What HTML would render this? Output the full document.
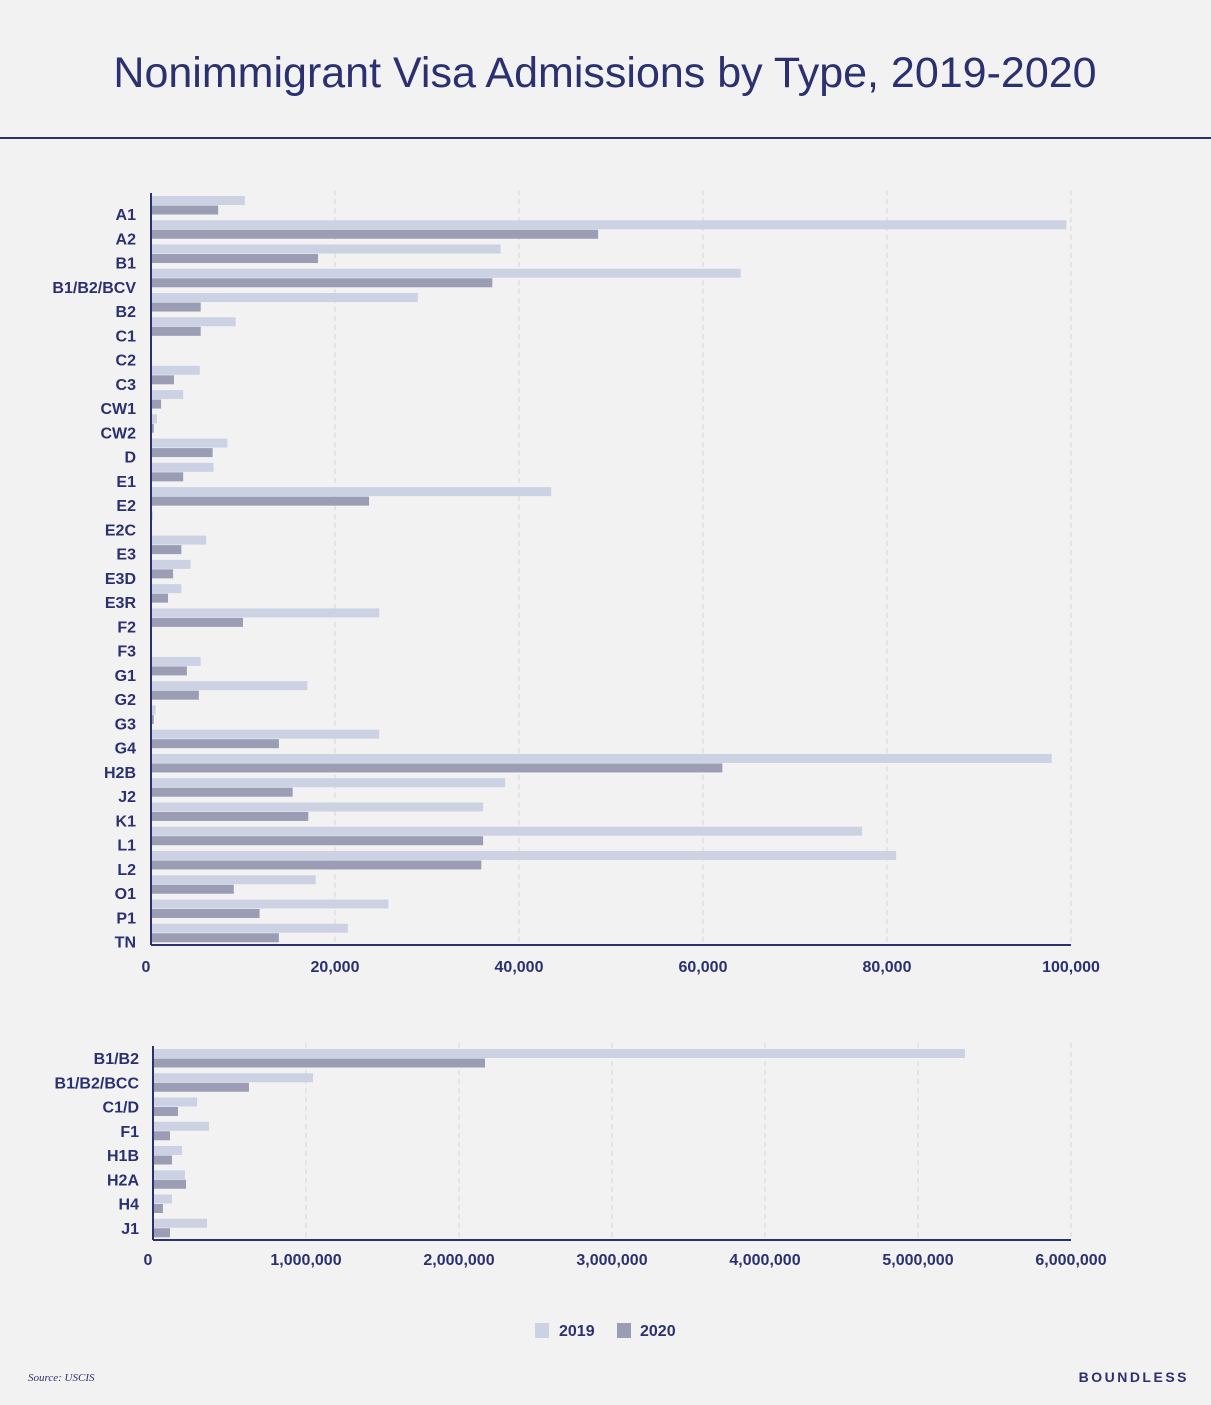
<!DOCTYPE html>
<html><head><meta charset="utf-8">
<style>
html,body{margin:0;padding:0;background:#f2f2f2;}
body{width:1211px;height:1400px;position:relative;overflow:hidden;font-family:"Liberation Sans",sans-serif;}
svg text{font-family:"Liberation Sans",sans-serif;}
</style></head>
<body>
<svg id="chart" width="1211" height="1400" xmlns="http://www.w3.org/2000/svg">
<rect width="1211" height="1400" fill="#f2f2f2"/>
<text x="605" y="87" text-anchor="middle" font-size="43" fill="#2b3070">Nonimmigrant Visa Admissions by Type, 2019-2020</text>
<rect x="0" y="137" width="1211" height="2" fill="#2b3070"/>
<g id="top"></g>
<g id="bot"></g>
<g>
<rect x="535" y="1323" width="14" height="15" fill="#cdd1e4"/>
<text x="559" y="1336" font-size="16" font-weight="bold" fill="#2b3070">2019</text>
<rect x="617" y="1323" width="14" height="15" fill="#9a9db3"/>
<text x="640" y="1336" font-size="16" font-weight="bold" fill="#2b3070">2020</text>
</g>
<text x="28" y="1381" font-size="11" font-style="italic" fill="#2b3070" style="font-family:'Liberation Serif',serif">Source: USCIS</text>
<text x="1189" y="1382" text-anchor="end" font-size="14" font-weight="bold" letter-spacing="2.5" fill="#2b3070">BOUNDLESS</text>
</svg>
<script>
const topCats=["A1","A2","B1","B1/B2/BCV","B2","C1","C2","C3","CW1","CW2","D","E1","E2","E2C","E3","E3D","E3R","F2","F3","G1","G2","G3","G4","H2B","J2","K1","L1","L2","O1","P1","TN"];
const top2019=[10200,99500,38000,64100,29000,9200,0,5300,3500,650,8300,6800,43500,200,6000,4300,3300,24800,0,5400,17000,500,24800,97900,38500,36100,77300,81000,17900,25800,21400];
const top2020=[7300,48600,18150,37100,5400,5400,0,2500,1100,300,6700,3500,23700,100,3300,2400,1850,10000,0,3900,5200,300,13900,62100,15400,17100,36100,35900,9000,11800,13900];
const topTicks=[0,20000,40000,60000,80000,100000];
const botCats=["B1/B2","B1/B2/BCC","C1/D","F1","H1B","H2A","H4","J1"];
const bot2019=[5307000,1046000,288000,366000,190000,209000,124000,353000];
const bot2020=[2170000,627000,163000,111000,124000,216000,65000,111000];
const botTicks=[0,1000000,2000000,3000000,4000000,5000000,6000000];
const NS="http://www.w3.org/2000/svg";
function mk(parent,tag,attrs,txt){const e=document.createElementNS(NS,tag);for(const k in attrs)e.setAttribute(k,attrs[k]);if(txt!==undefined)e.textContent=txt;parent.appendChild(e);return e;}
function fmt(v){return v.toLocaleString('en-US');}
function draw(g,cats,a,b,ticks,o){
  const x=v=>o.x0+(v/o.max)*(o.x1-o.x0);
  const band=(o.y1-o.y0)/cats.length;
  ticks.forEach((t,i)=>{
    if(i>0){const l=mk(g,'line',{x1:x(t),x2:x(t),y1:o.y0-3,y2:o.y1,stroke:'#d6d6d6','stroke-dasharray':'5,4','stroke-width':1});
    
    }
    const tx=mk(g,'text',{x:i==0?x(t)-5:x(t),y:o.tickY,'text-anchor':'middle','font-size':16,'font-weight':'bold',fill:'#2b3070'},fmt(t));
    
    
  });
  cats.forEach((c,i)=>{
    const by=o.y0+band*i;
    const r1=mk(g,'rect',{x:o.x0,y:by+3,width:Math.max(0,x(a[i])-o.x0),height:9,fill:'#cdd1e4'});
    
    
    const r2=mk(g,'rect',{x:o.x0,y:by+12.5,width:Math.max(0,x(b[i])-o.x0),height:9,fill:'#9a9db3'});
    
    
    const t=mk(g,'text',{x:o.labelX,y:by+o.labOff,'text-anchor':'end','font-size':16,'font-weight':'bold',fill:'#2b3070'},c);
    
    
  });
  const ax=mk(g,'line',{x1:o.x0,x2:o.x1,y1:o.y1,y2:o.y1,stroke:'#2b3070','stroke-width':2});
  
  
  const ay=mk(g,'line',{x1:o.x0,x2:o.x0,y1:o.y0,y2:o.y1,stroke:'#2b3070','stroke-width':2});
  
  
}
draw(document.getElementById('top'),topCats,top2019,top2020,topTicks,{x0:151,x1:1071,max:100000,y0:193,y1:945,tickY:972,labelX:136,labOff:27});
draw(document.getElementById('bot'),botCats,bot2019,bot2020,botTicks,{x0:153,x1:1071,max:6000000,y0:1046,y1:1240,tickY:1265,labelX:139,labOff:18});
</script>
</body></html>
